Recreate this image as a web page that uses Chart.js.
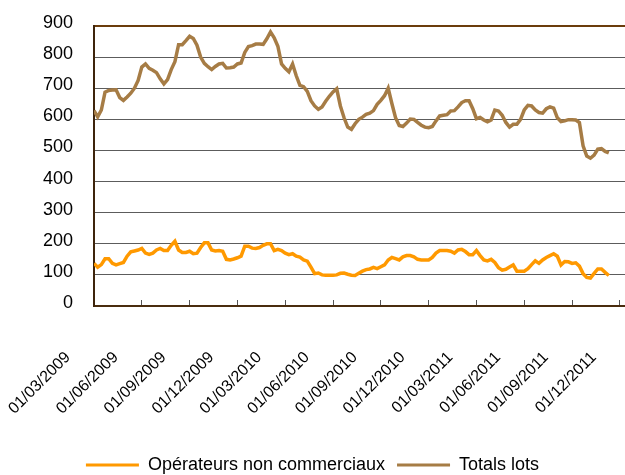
<!DOCTYPE html>
<html>
<head>
<meta charset="utf-8">
<script src="https://cdn.jsdelivr.net/npm/chart.js@4"></script>
<style>
  html, body { margin: 0; padding: 0; background: #fff; overflow: hidden; }
  canvas { display: block; }
</style>
</head>
<body>
<canvas id="lots_chart" width="625" height="475"></canvas>
<script>
// tick labels on the x axis (one every 13 weeks)
const tick_labels = [
  "01/03/2009", "01/06/2009", "01/09/2009", "01/12/2009",
  "01/03/2010", "01/06/2010", "01/09/2010", "01/12/2010",
  "01/03/2011", "01/06/2011", "01/09/2011", "01/12/2011",
];
const tick_weeks = [0, 13, 26, 39, 52, 65, 78, 91, 104, 117, 130, 143];

// weekly values, week 0 = 01/03/2009
const non_commercial = [
  137, 125, 133, 152, 152, 137, 132, 136, 140, 160,
  174, 177, 180, 185, 170, 166, 170, 180, 185, 178,
  178, 195, 208, 180, 172, 172, 176, 168, 170, 188,
  203, 203, 180, 177, 178, 176, 150, 148, 151, 155,
  160, 192, 192, 186, 185, 188, 195, 200, 200, 178,
  182, 178, 170, 165, 168, 160, 157, 148, 144, 125,
  104, 106, 100, 99, 99, 99, 100, 105, 106, 102,
  99, 98, 105, 112, 117, 119, 124, 120, 126, 132,
  148, 156, 152, 148, 158, 162, 162, 158, 150, 148,
  148, 148, 156, 170, 178, 178, 178, 176, 170, 180,
  182, 175, 165, 165, 178, 162, 148, 145, 150, 140,
  123, 115, 118, 125, 132, 112, 112, 112, 120, 133,
  145, 137, 148, 156, 162, 168, 160, 132, 143, 142,
  137, 139, 128, 104, 92, 90, 105, 119, 119, 108,
  98,
];

const total_lots = [
  628, 608, 630, 687, 693, 694, 695, 670, 661, 672,
  684, 700, 725, 768, 778, 764, 758, 750, 730, 714,
  728, 760, 785, 840, 840, 853, 867, 860, 838, 800,
  780, 769, 760, 770, 778, 780, 765, 766, 768, 778,
  781, 815, 834, 837, 842, 842, 841, 859, 881, 862,
  835, 778, 764, 753, 778, 740, 709, 705, 690, 660,
  643, 632, 640, 658, 674, 688, 698, 643, 605, 575,
  568, 586, 600, 607, 616, 620, 628, 648, 661, 676,
  700, 651, 605, 580, 577, 588, 601, 600, 590, 581,
  575, 573, 577, 595, 611, 613, 615, 627, 628, 640,
  654, 660, 660, 634, 602, 606, 598, 592, 598, 630,
  627, 613, 590, 575, 584, 584, 600, 630, 645, 643,
  630, 622, 620, 634, 640, 636, 605, 593, 595, 599,
  599, 598, 590, 515, 482, 475, 485, 504, 506, 497,
  492,
];

const ctx_lots = document.getElementById("lots_chart").getContext("2d");
const font_family = "'Liberation Sans', Arial, sans-serif";

function toPoints(values) {
  return values.map((v, i) => ({ x: i, y: v }));
}

let chart;
function lotsChart() {
  chart = new Chart(ctx_lots, {
    type: "line",
    data: {
      datasets: [
        {
          label: "Opérateurs non commerciaux",
          data: toPoints(non_commercial),
          borderColor: "#ff9900",
          backgroundColor: "#ff9900",
          borderWidth: 3.5,
          pointRadius: 0,
          tension: 0,
        },
        {
          label: "Totals lots",
          data: toPoints(total_lots),
          borderColor: "#a67c45",
          backgroundColor: "#a67c45",
          borderWidth: 3.5,
          pointRadius: 0,
          tension: 0,
        },
      ],
    },
    options: {
      responsive: false,
      animation: false,
      devicePixelRatio: 1,
      layout: { padding: { left: 0, top: 26, right: 0, bottom: -9 } },
      plugins: {
        tooltip: { enabled: false },
        legend: {
          position: "bottom",
          labels: {
            boxWidth: 53,
            boxHeight: 3,
            padding: 12,
            color: "#000",
            font: { family: font_family, size: 18 },
            generateLabels: (c) =>
              Chart.defaults.plugins.legend.labels
                .generateLabels(c)
                .map((l) => ({ ...l, lineWidth: 0, fillStyle: l.strokeStyle })),
          },
        },
      },
      scales: {
        x: {
          type: "linear",
          min: 0,
          max: 144.4,
          afterBuildTicks: (scale) => {
            scale.ticks = tick_weeks.map((w) => ({ value: w }));
          },
          afterFit: (scale) => {
            scale.height = 138;
            scale.paddingLeft = 0;
            scale.paddingRight = 0;
          },
          ticks: {
            autoSkip: false,
            minRotation: 45,
            maxRotation: 45,
            padding: 48,
            labelOffset: -26,
            color: "#000",
            font: { family: font_family, size: 16 },
            callback: (value) => tick_labels[tick_weeks.indexOf(value)],
          },
          grid: {
            drawOnChartArea: false,
            drawTicks: true,
            tickLength: -6,
            color: "#555",
          },
          border: { color: "#4a2c0e", width: 2 },
        },
        y: {
          min: 0,
          max: 900,
          afterFit: (scale) => {
            scale.width = 94;
            scale.paddingTop = 0;
            scale.paddingBottom = 0;
          },
          ticks: {
            stepSize: 100,
            padding: 21,
            labelOffset: -3,
            color: "#000",
            font: { family: font_family, size: 18 },
          },
          grid: {
            drawTicks: false,
            color: (c) => (c.tick.value === 900 ? "#6b3c0c" : "#5c5c5c"),
            lineWidth: (c) => (c.tick.value === 900 ? 2 : 1),
          },
          border: { color: "#3e240c", width: 2 },
        },
      },
    },
  });
}

lotsChart();
</script>
</body>
</html>
